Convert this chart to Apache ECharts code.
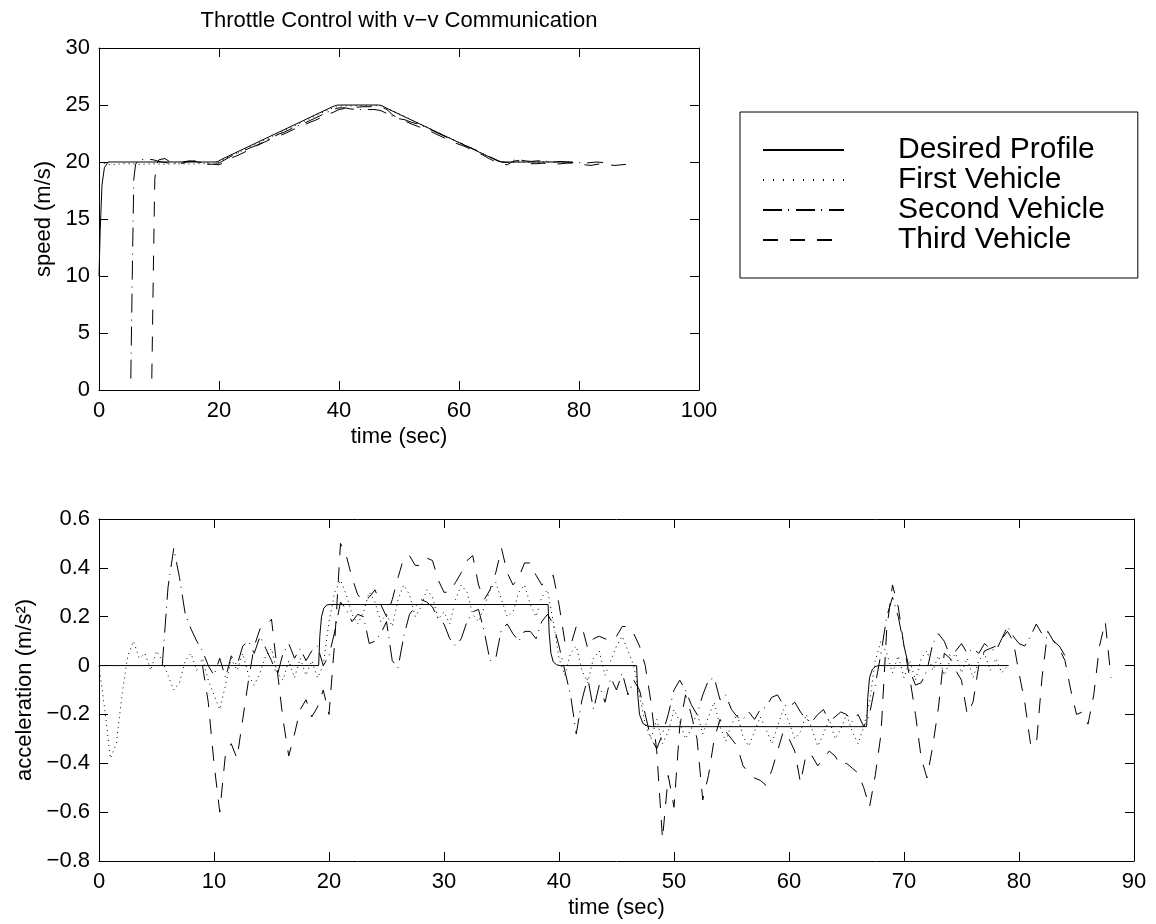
<!DOCTYPE html>
<html>
<head>
<meta charset="utf-8">
<script src="https://cdn.jsdelivr.net/npm/echarts@6/dist/echarts.min.js"></script>
<style>
  html, body { margin: 0; padding: 0; background: #fff; }
  #chart { width: 1156px; height: 924px; }
</style>
</head>
<body>
<div id="chart"></div>
<script>
// ---- speed plot (top) ----
const desiredSpeedT = [0, 0.2, 0.5, 0.9, 1.5, 19.3, 19.8, 20.5, 39.0, 39.6, 40.2, 46.6, 47.1, 47.8, 66.5, 67.1, 67.8, 79];
const desiredSpeedV = [10, 14, 18, 19.5, 20, 20, 20.04, 20.25, 24.87, 24.98, 25, 25, 24.96, 24.75, 20.08, 20.01, 20, 20];

// first vehicle, one value per second from t = 0
const firstSpeed = [
  20.0, 19.85, 19.75, 19.8, 19.85, 19.85, 19.82, 19.8, 19.82, 19.85, 19.83, 19.8, 19.82, 19.85, 19.84, 19.82, 19.82, 19.85, 19.85, 19.82,
  20.0, 20.28, 20.55, 20.78, 21.02, 21.28, 21.52, 21.78, 22.02, 22.28, 22.52, 22.78, 23.02, 23.28, 23.52, 23.78, 24.02, 24.28, 24.52, 24.75,
  24.9, 24.92, 24.92, 24.93, 24.93, 24.95, 24.95, 24.93, 24.72, 24.48, 24.22, 23.98, 23.72, 23.48, 23.22, 22.98, 22.72, 22.48, 22.22, 21.98,
  21.72, 21.48, 21.22, 20.98, 20.72, 20.48, 20.22, 20.02, 19.95, 19.97, 20.0, 20.0, 20.0, 19.98, 19.98, 20.0, 20.0, 20.0, 20.0, 20.0
];

// second vehicle: start-up transient, then one value per second from t = 7
const secondStartT = [5.3, 5.6, 5.8, 6.1, 6.5];
const secondStartV = [1, 12, 18.5, 19.8, 20.1];
const secondSpeed = [
  20.2, 20.25, 20.2, 20.05, 19.95, 19.9, 19.9, 20.0, 20.1, 20.05, 19.95, 19.9, 19.9, 19.9,
  20.2, 20.5, 20.75, 20.95, 21.2, 21.4, 21.65, 21.95, 22.2, 22.45, 22.65, 22.9, 23.15, 23.35, 23.6, 23.85, 24.1, 24.35, 24.6,
  24.75, 24.75, 24.65, 24.6, 24.6, 24.6, 24.6, 24.5, 24.25, 24.0, 23.8, 23.7, 23.5, 23.35, 23.15, 22.9, 22.65, 22.4, 22.15,
  21.95, 21.75, 21.45, 21.25, 21.0, 20.75, 20.5, 20.25, 20.0, 19.95, 20.15, 20.2, 20.1, 20.05, 20.1, 20.1, 20.05, 20.0,
  20.05, 20.0, 19.95, 19.95, 19.9, 19.95, 20.0, 19.95
];

// third vehicle: start-up transient, then one value per second from t = 11
const thirdStartT = [8.8, 9.1, 9.3, 9.6, 10];
const thirdStartV = [1, 12, 18.5, 19.8, 20.2];
const thirdSpeed = [
  20.3, 19.95, 19.85, 19.9, 20.05, 20.1, 19.95, 19.8, 19.8, 19.75,
  20.0, 20.35, 20.55, 20.8, 21.05, 21.35, 21.6, 21.85, 22.1, 22.3, 22.5, 22.75, 23.0, 23.2, 23.45, 23.65, 23.9, 24.15, 24.35, 24.6,
  24.7, 24.75, 24.8, 24.85, 24.85, 24.85, 24.85, 24.6, 24.1, 23.85, 23.6, 23.35, 23.15, 22.95, 22.75, 22.5, 22.25, 22.0, 21.75,
  21.55, 21.35, 21.1, 20.85, 20.6, 20.3, 20.05, 19.85, 19.75, 20.05, 20.15, 20.0, 19.85, 19.85, 19.9, 19.85, 19.8, 19.85, 19.9,
  19.9, 19.85, 19.75, 19.7, 19.8, 19.85, 19.75, 19.7, 19.75, 19.8
];

// ---- acceleration plot (bottom) ----
const desiredAccT = [0, 19.1, 19.2, 19.35, 19.55, 19.8, 20.1, 39.05, 39.15, 39.3, 39.5, 39.8, 40.1, 46.75, 46.85, 47.0, 47.3, 47.7, 48.1,
  66.75, 66.85, 67.0, 67.25, 67.55, 67.9, 79.1];
const desiredAccV = [0, 0, 0.12, 0.2, 0.235, 0.248, 0.25, 0.25, 0.13, 0.05, 0.015, 0.003, 0, 0, -0.12, -0.2, -0.237, -0.248, -0.25,
  -0.25, -0.13, -0.05, -0.015, -0.003, 0, 0];

const accStep = 0.5;
const firstAccStart = 0;
const firstAcc = [
  0.0, -0.18, -0.38, -0.32, -0.12, 0.04, 0.1, 0.03, 0.05, -0.02, 0.06, 0.02, -0.04, -0.1, -0.07, 0.02, 0.05, -0.02, 0.03, -0.06,
  -0.12, -0.18, -0.08, 0.03, -0.02, 0.05, -0.04, -0.08, -0.03, 0.04, 0.07, -0.03, -0.06, 0.02, -0.05, 0.03, -0.04, 0.02, -0.05, 0.0,
  0.18, 0.3, 0.35, 0.29, 0.21, 0.17, 0.22, 0.3, 0.26, 0.18, 0.21, 0.16, 0.27, 0.33, 0.29, 0.2, 0.24, 0.31, 0.28, 0.19,
  0.22, 0.17, 0.27, 0.33, 0.3, 0.21, 0.18, 0.24, 0.31, 0.34, 0.27, 0.2, 0.22, 0.3, 0.33, 0.25, 0.2, 0.28, 0.31, 0.18,
  0.03, -0.04, 0.05, 0.08, -0.02, -0.07, 0.03, 0.06, -0.04, 0.02, 0.08, 0.12, 0.06, 0.0, -0.12, -0.24, -0.3, -0.22, -0.32, -0.27,
  -0.18, -0.23, -0.3, -0.26, -0.19, -0.28, -0.21, -0.15, -0.25, -0.31, -0.24, -0.2, -0.29, -0.33, -0.27, -0.21, -0.26, -0.32, -0.25, -0.18,
  -0.23, -0.3, -0.27, -0.2, -0.26, -0.33, -0.28, -0.22, -0.3, -0.26, -0.2, -0.27, -0.32, -0.25, -0.15, 0.02, 0.1, 0.05, -0.03, 0.04,
  -0.05, 0.02, -0.06, 0.03, 0.06, -0.02, 0.04, -0.04, 0.02, 0.05, -0.03, 0.03, -0.05, 0.02, 0.05, -0.02, 0.03, -0.03, 0.0
];

const secondAccStart = 5.5;
const secondAcc = [
  0.0, 0.32, 0.48, 0.36, 0.21, 0.15, 0.1, 0.06, 0.0, -0.04, 0.03, -0.05, 0.04, 0.0, 0.08, 0.1, 0.05, 0.12, 0.07, 0.02,
  -0.04, 0.05, 0.09, 0.03, 0.07, 0.02, 0.06, 0.08, 0.0, 0.04, 0.14, 0.26, 0.23, 0.18, 0.21, 0.2, 0.09, 0.1, 0.13, 0.18,
  0.02, -0.01, 0.12, 0.21, 0.24, 0.27, 0.26, 0.24, 0.19, 0.17, 0.11, 0.08, 0.11, 0.18, 0.22, 0.23, 0.14, 0.02, 0.03, 0.15,
  0.17, 0.13, 0.1, 0.14, 0.14, 0.11, 0.18, 0.21, 0.17, 0.08, -0.02, -0.12, -0.28, -0.14, -0.05, -0.18, -0.08, -0.15, -0.05, -0.1,
  -0.03, -0.12, -0.06, -0.1, -0.2, -0.3, -0.34, -0.28, -0.2, -0.1, -0.06, -0.1, -0.16, -0.2, -0.12, -0.06, -0.05, -0.14, -0.12, -0.18,
  -0.21, -0.22, -0.19, -0.22, -0.18, -0.17, -0.13, -0.12, -0.16, -0.17, -0.15, -0.19, -0.22, -0.23, -0.2, -0.18, -0.23, -0.21, -0.19, -0.2,
  -0.23, -0.2, -0.25, -0.2, -0.08, 0.05, 0.2, 0.28, 0.2, 0.08, -0.02, -0.08, -0.07, -0.02, 0.09, 0.13, 0.1, 0.04, 0.06, 0.09,
  0.05, 0.07, 0.05, 0.09, 0.07, 0.06, 0.11, 0.16, 0.12, 0.09, 0.08, 0.12, 0.17, 0.13, 0.11, 0.1, 0.08, 0.04
];

const thirdAccStart = 9.0;
const thirdAcc = [
  0.0, -0.15, -0.4, -0.6, -0.36, -0.32, -0.38, -0.22, -0.06, 0.08, 0.15, 0.16, 0.19, -0.02, -0.22, -0.37, -0.28, -0.18, -0.14, -0.21,
  -0.17, -0.1, -0.2, 0.1, 0.5, 0.45, 0.36, 0.29, 0.26, 0.28, 0.31, 0.25, 0.2, 0.27, 0.36, 0.44, 0.45, 0.41, 0.41, 0.44,
  0.43, 0.35, 0.3, 0.3, 0.34, 0.38, 0.43, 0.45, 0.33, 0.27, 0.31, 0.38, 0.48, 0.38, 0.33, 0.36, 0.42, 0.42, 0.37, 0.33,
  0.35, 0.37, 0.25, 0.1, 0.08, 0.16, 0.16, 0.07, 0.11, 0.12, 0.11, 0.1, 0.12, 0.16, 0.16, 0.13, 0.08, 0.0, -0.15, -0.35,
  -0.71, -0.45, -0.58, -0.25, -0.12, -0.2, -0.3, -0.55, -0.45, -0.3, -0.22, -0.27, -0.3, -0.33, -0.41, -0.44, -0.46, -0.47, -0.49, -0.43,
  -0.35, -0.27, -0.3, -0.35, -0.48, -0.36, -0.37, -0.41, -0.38, -0.35, -0.37, -0.41, -0.4, -0.42, -0.44, -0.5, -0.58, -0.45, -0.28, 0.15,
  0.33, 0.24, 0.08, -0.05, -0.2, -0.38, -0.46, -0.33, -0.17, 0.05, 0.03, -0.02, -0.06, -0.2, -0.15, 0.0, 0.06, 0.07, 0.08, 0.11,
  0.14, 0.1, -0.03, -0.15, -0.32, -0.33, -0.05, 0.14, 0.1, 0.07, 0.02, -0.1, -0.2, -0.19, -0.24, -0.12, 0.08, 0.18, -0.05
];

const seriesNames = ['Desired Profile', 'First Vehicle', 'Second Vehicle', 'Third Vehicle'];
const dashTypes = ['solid', [1, 4], [19, 6, 1, 7], [15, 12]];

const FONT = 'Liberation Sans, Arial, Helvetica, sans-serif';

const pairs = (ts, vs) => ts.map((t, i) => [t, vs[i]]);
const stepped = (start, step, vs) => vs.map((v, i) => [+(start + i * step).toFixed(2), v]);

const desiredSpeedData = pairs(desiredSpeedT, desiredSpeedV);
const firstSpeedData = stepped(0, 1, firstSpeed);
const secondSpeedData = pairs(secondStartT, secondStartV).concat(stepped(7, 1, secondSpeed));
const thirdSpeedData = pairs(thirdStartT, thirdStartV).concat(stepped(11, 1, thirdSpeed));

const desiredAccData = pairs(desiredAccT, desiredAccV);
const firstAccData = stepped(firstAccStart, accStep, firstAcc);
const secondAccData = stepped(secondAccStart, accStep, secondAcc);
const thirdAccData = stepped(thirdAccStart, accStep, thirdAcc);

const black = '#000';
const labelStyle = { color: black, fontSize: 22, fontFamily: FONT };

function mainX(grid, max, interval) {
  return {
    gridIndex: grid, type: 'value', min: 0, max: max, interval: interval, position: 'bottom',
    axisLine: { show: true, onZero: false, lineStyle: { color: black, width: 1 } },
    axisTick: { show: true, inside: true, length: 9, lineStyle: { color: black } },
    axisLabel: Object.assign({ margin: 10 }, labelStyle),
    splitLine: { show: false },
    name: 'time (sec)', nameLocation: 'middle', nameGap: 36,
    nameTextStyle: labelStyle
  };
}
function boxX(grid, max, interval) {
  return {
    gridIndex: grid, type: 'value', min: 0, max: max, interval: interval, position: 'top',
    axisLine: { show: true, onZero: false, lineStyle: { color: black, width: 1 } },
    axisTick: { show: true, inside: true, length: 9, lineStyle: { color: black } },
    axisLabel: { show: false }, splitLine: { show: false }
  };
}
function mainY(grid, min, max, interval, name, gap, fmt) {
  return {
    gridIndex: grid, type: 'value', min: min, max: max, interval: interval, position: 'left',
    axisLine: { show: true, onZero: false, lineStyle: { color: black, width: 1 } },
    axisTick: { show: true, inside: true, length: 9, lineStyle: { color: black } },
    axisLabel: Object.assign({ margin: 9, formatter: fmt }, labelStyle),
    splitLine: { show: false },
    name: name, nameLocation: 'middle', nameGap: gap, nameRotate: 90,
    nameTextStyle: labelStyle
  };
}
function boxY(grid, min, max, interval) {
  return {
    gridIndex: grid, type: 'value', min: min, max: max, interval: interval, position: 'right',
    axisLine: { show: true, onZero: false, lineStyle: { color: black, width: 1 } },
    axisTick: { show: true, inside: true, length: 9, lineStyle: { color: black } },
    axisLabel: { show: false }, splitLine: { show: false }
  };
}

const accFmt = v => {
  if (Math.abs(v) < 1e-9) return '0';
  return (v < 0 ? '\u2212' : '') + Math.abs(v).toFixed(1);
};

function line(name, data, idx, xi, yi) {
  return {
    name: name, type: 'line', xAxisIndex: xi, yAxisIndex: yi, data: data,
    symbol: 'none', showSymbol: false, silent: true,
    lineStyle: { color: black, width: 1, type: dashTypes[idx] },
    itemStyle: { color: black }
  };
}

const chart = echarts.init(document.getElementById('chart'), null, { renderer: 'canvas' });
chart.setOption({
  animation: false,
  backgroundColor: '#fff',
  title: {
    text: 'Throttle Control with v\u2212v Communication',
    left: 399, top: 10, textAlign: 'center', padding: 0,
    textStyle: { color: black, fontSize: 22, fontWeight: 'normal', fontFamily: FONT }
  },
  legend: {
    orient: 'vertical', left: 740, top: 112,
    padding: [23, 33, 23, 22],
    backgroundColor: '#fff', borderColor: black, borderWidth: 1, borderRadius: 0,
    itemWidth: 81, itemHeight: 14, itemGap: 0,
    itemStyle: { opacity: 0, borderWidth: 0 },
    data: [
      { name: seriesNames[0] },
      { name: seriesNames[1], lineStyle: { type: [1, 9] } },
      { name: seriesNames[2] },
      { name: seriesNames[3] }
    ],
    formatter: n => '{t|' + n + '}',
    textStyle: {
      color: black, fontSize: 30, fontFamily: FONT, lineHeight: 30,
      rich: { t: { fontSize: 30, fontFamily: FONT, lineHeight: 30, padding: [0, 0, 0, 49], color: black } }
    }
  },
  grid: [
    { left: 99, top: 48, width: 600, height: 342 },
    { left: 99, top: 519, width: 1035, height: 342 }
  ],
  xAxis: [mainX(0, 100, 20), boxX(0, 100, 20), mainX(1, 90, 10), boxX(1, 90, 10)],
  yAxis: [
    mainY(0, 0, 30, 5, 'speed (m/s)', 41, v => String(v)),
    boxY(0, 0, 30, 5),
    mainY(1, -0.8, 0.6, 0.2, 'acceleration (m/s\u00b2)', 60, accFmt),
    boxY(1, -0.8, 0.6, 0.2)
  ],
  series: [
    line(seriesNames[0], desiredSpeedData, 0, 0, 0),
    line(seriesNames[1], firstSpeedData, 1, 0, 0),
    line(seriesNames[2], secondSpeedData, 2, 0, 0),
    line(seriesNames[3], thirdSpeedData, 3, 0, 0),
    line(seriesNames[0], desiredAccData, 0, 2, 2),
    line(seriesNames[1], firstAccData, 1, 2, 2),
    line(seriesNames[2], secondAccData, 2, 2, 2),
    line(seriesNames[3], thirdAccData, 3, 2, 2)
  ]
});
</script>
</body>
</html>
